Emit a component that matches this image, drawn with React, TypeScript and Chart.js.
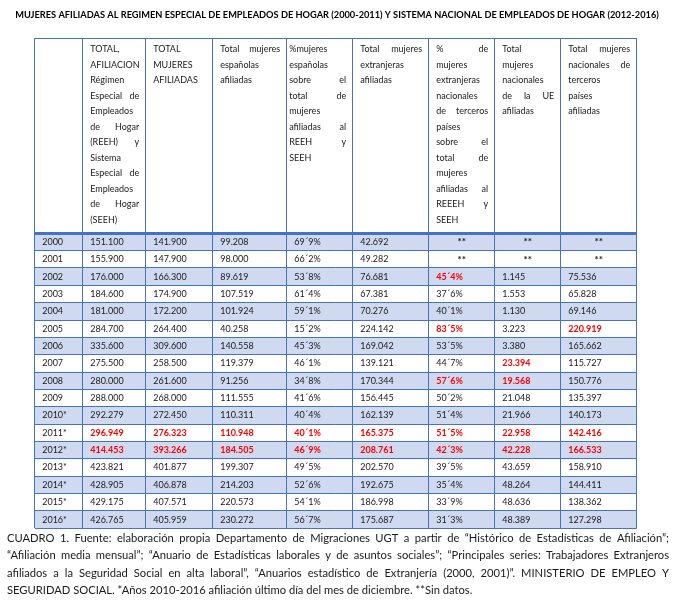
import React, { useEffect, useRef } from "react";
import { Chart, registerables } from "chart.js";

Chart.register(...registerables);

// ---------------- DATA ----------------
const TITLE =
  "MUJERES AFILIADAS AL REGIMEN ESPECIAL DE EMPLEADOS DE HOGAR (2000-2011) Y SISTEMA NACIONAL DE EMPLEADOS DE HOGAR (2012-2016)";

const years = [
  "2000", "2001", "2002", "2003", "2004", "2005", "2006", "2007", "2008", "2009",
  "2010*", "2011*", "2012*", "2013*", "2014*", "2015*", "2016*",
];

const totalAfiliacion = [151100, 155900, 176000, 184600, 181000, 284700, 335600, 275500, 280000, 288000, 292279, 296949, 414453, 423821, 428905, 429175, 426765];
const totalMujeres = [141900, 147900, 166300, 174900, 172200, 264400, 309600, 258500, 261600, 268000, 272450, 276323, 393266, 401877, 406878, 407571, 405959];
const espanolas = [99208, 98000, 89619, 107519, 101924, 40258, 140558, 119379, 91256, 111555, 110311, 110948, 184505, 199307, 214203, 220573, 230272];
const pctEspanolas = [69.9, 66.2, 53.8, 61.4, 59.1, 15.2, 45.3, 46.1, 34.8, 41.6, 40.4, 40.1, 46.9, 49.5, 52.6, 54.1, 56.7];
const extranjeras = [42692, 49282, 76681, 67381, 70276, 224142, 169042, 139121, 170344, 156445, 162139, 165375, 208761, 202570, 192675, 186998, 175687];
const pctTerceros = [null, null, 45.4, 37.6, 40.1, 83.5, 53.5, 44.7, 57.6, 50.2, 51.4, 51.5, 42.3, 39.5, 35.4, 33.9, 31.3];
const ueAfiliadas = [null, null, 1145, 1553, 1130, 3223, 3380, 23394, 19568, 21048, 21966, 22958, 42228, 43659, 48264, 48636, 48389];
const tercerosAfiliadas = [null, null, 75536, 65828, 69146, 220919, 165662, 115727, 150776, 135397, 140173, 142416, 166533, 158910, 144411, 138362, 127298];

const headerLines: string[][] = [
  [],
  ["TOTAL,", "AFILIACION", "Régimen", "Especial de", "Empleados", "de Hogar", "(REEH) y", "Sistema", "Especial de", "Empleados", "de Hogar", "(SEEH)"],
  ["TOTAL", "MUJERES", "AFILIADAS"],
  ["Total mujeres", "españolas", "afiliadas"],
  ["%mujeres", "españolas", "sobre el", "total de", "mujeres", "afiliadas al", "REEH y", "SEEH"],
  ["Total mujeres", "extranjeras", "afiliadas"],
  ["% de", "mujeres", "extranjeras", "nacionales", "de terceros", "países", "sobre el", "total de", "mujeres", "afiliadas al", "REEEH y", "SEEH"],
  ["Total", "mujeres", "nacionales", "de la UE", "afiliadas"],
  ["Total mujeres", "nacionales de", "terceros", "países", "afiliadas"],
];

const captionLines = [
  "CUADRO 1. Fuente: elaboración propia Departamento de Migraciones UGT a partir de “Histórico de Estadísticas de Afiliación”;",
  "“Afiliación media mensual”; “Anuario de Estadísticas laborales y de asuntos sociales”; “Principales series: Trabajadores Extranjeros",
  "afiliados a la Seguridad Social en alta laboral”, “Anuarios estadístico de Extranjería (2000, 2001)”. MINISTERIO DE EMPLEO Y",
  "SEGURIDAD SOCIAL. *Años 2010-2016 afiliación último día del mes de diciembre. **Sin datos.",
];

// highlighted (red bold) cells: year -> column indexes
const highlighted: Record<string, number[]> = {
  "2002": [6],
  "2005": [6, 8],
  "2007": [7],
  "2008": [6, 7],
  "2011*": [1, 2, 3, 4, 5, 6, 7, 8],
  "2012*": [1, 2, 3, 4, 5, 6, 7, 8],
};

// ---------------- LAYOUT / STYLE ----------------
const FONT = "Lato, 'Open Sans', sans-serif";
const FONT_SIZE = 9;
const TEXT_COLOR = "#1a1a1a";
const RED = "#ff0000";
const LINE_COLOR = "#4472c4";
const SHADE = "#cfdaf0";
const COL_WIDTHS = [48, 63, 67, 74, 66, 76, 66, 66, 76];
const HEADER_UNITS = 11.25;
const CELL_PAD = 7.5;
const HEADER_PAD_L = [7.5, 7.5, 7.5, 7.5, 2.5, 7.5, 7.5, 7.5, 7.5];
const HEADER_PAD_R = 6.5;
const HEADER_FIRST = 11.5;
const HEADER_LINE = 15.5;
const TITLE_Y = 15;
const TITLE_WIDTH = 644;
const CAPTION_LEFT = 7;
const CAPTION_RIGHT = 669;
const CAPTION_FIRST = 10;
const CAPTION_LINE = 17.3;
const CAPTION_FONT_SIZE = 11.2;

const colEdges = COL_WIDTHS.reduce((acc, w) => { acc.push(acc[acc.length - 1] + w); return acc; }, [0] as number[]);
const TOTAL_W = colEdges[colEdges.length - 1];
const Y_MAX = HEADER_UNITS + years.length;

const columns = [totalAfiliacion, totalMujeres, espanolas, pctEspanolas, extranjeras, pctTerceros, ueAfiliadas, tercerosAfiliadas];
const pctColumns = [3, 5];

function fmtInt(n: number) {
  return String(n).replace(/\B(?=(\d{3})+(?!\d))/g, ".");
}
function fmtPct(p: number) {
  const [a, b] = p.toFixed(1).split(".");
  return a + "\u00B4" + b + "%";
}

function drawJustified(ctx: CanvasRenderingContext2D, text: string, x: number, y: number, width: number, justify: boolean) {
  const words = text.split(" ");
  if (!justify || words.length < 2) { ctx.fillText(text, x, y); return; }
  const widths = words.map((w) => ctx.measureText(w).width);
  const sum = widths.reduce((a, b) => a + b, 0);
  let gap = (width - sum) / (words.length - 1);
  const minGap = ctx.measureText(" ").width * 0.6;
  if (gap < minGap) gap = minGap;
  let cx = x;
  words.forEach((w, i) => { ctx.fillText(w, cx, y); cx += widths[i] + gap; });
}

const tablePlugin = {
  id: "tableText",
  afterDraw(chart: any) {
    const { ctx } = chart;
    const xs = chart.scales.x;
    const ys = chart.scales.y;
    ctx.save();
    // title
    ctx.textBaseline = "middle";
    ctx.textAlign = "center";
    ctx.fillStyle = "#000";
    ctx.font = `bold 10px ${FONT}`;
    const tw = ctx.measureText(TITLE).width;
    const ts = (10 * TITLE_WIDTH) / tw;
    ctx.font = `bold ${ts.toFixed(2)}px ${FONT}`;
    ctx.fillText(TITLE, chart.width / 2, TITLE_Y);

    ctx.textAlign = "left";
    ctx.fillStyle = TEXT_COLOR;
    ctx.font = `${FONT_SIZE}px ${FONT}`;
    const top = ys.getPixelForValue(0);
    headerLines.forEach((lines, c) => {
      const left = xs.getPixelForValue(colEdges[c]) + HEADER_PAD_L[c];
      const right = xs.getPixelForValue(colEdges[c + 1]) - HEADER_PAD_R;
      lines.forEach((line, k) => {
        drawJustified(ctx, line, left, top + HEADER_FIRST + k * HEADER_LINE, right - left, k < lines.length - 1);
      });
    });
    years.forEach((yr, i) => {
      const y = ys.getPixelForValue(HEADER_UNITS + i + 0.5);
      ctx.font = `${FONT_SIZE}px ${FONT}`;
      ctx.fillStyle = TEXT_COLOR;
      ctx.textAlign = "left";
      ctx.fillText(yr, xs.getPixelForValue(colEdges[0]) + CELL_PAD, y);
      const reds = highlighted[yr] || [];
      columns.forEach((col, k) => {
        const c = k + 1;
        const v = col[i];
        const isRed = reds.includes(c);
        ctx.fillStyle = isRed ? RED : TEXT_COLOR;
        if (v === null || v === undefined) {
          ctx.font = `bold ${FONT_SIZE + 1}px ${FONT}`;
          ctx.textAlign = "center";
          ctx.fillText("**", (xs.getPixelForValue(colEdges[c]) + xs.getPixelForValue(colEdges[c + 1])) / 2, y);
        } else {
          ctx.font = `${isRed ? "bold " : ""}${FONT_SIZE}px ${FONT}`;
          ctx.textAlign = "left";
          const s = pctColumns.includes(k) ? fmtPct(v as number) : fmtInt(v as number);
          ctx.fillText(s, xs.getPixelForValue(colEdges[c]) + CELL_PAD, y);
        }
      });
    });
    // caption
    ctx.font = `${CAPTION_FONT_SIZE}px ${FONT}`;
    ctx.fillStyle = TEXT_COLOR;
    ctx.textAlign = "left";
    const base = chart.chartArea.bottom;
    captionLines.forEach((line, k) => {
      drawJustified(ctx, line, CAPTION_LEFT, base + CAPTION_FIRST + k * CAPTION_LINE, CAPTION_RIGHT - CAPTION_LEFT, k < captionLines.length - 1);
    });
    ctx.restore();
  },
};

export default function App() {
  const ref = useRef<HTMLCanvasElement | null>(null);
  useEffect(() => {
    if (!ref.current) return;
    const chart = new Chart(ref.current, {
      type: "bar",
      data: {
        datasets: [
          {
            data: years.map((_, i) => ({ y: HEADER_UNITS + i + 0.5, x: [0, TOTAL_W] })) as any,
            backgroundColor: (c: any) => (c.dataIndex % 2 === 0 ? SHADE : "rgba(0,0,0,0)"),
            borderWidth: 0,
            barPercentage: 1,
            categoryPercentage: 1,
          },
        ],
      },
      options: {
        indexAxis: "y",
        responsive: false,
        animation: false,
        events: [],
        layout: { padding: { left: 34.7, right: 37.3, top: 38, bottom: 83.7 } },
        plugins: {
          legend: { display: false },
          tooltip: { enabled: false },
          title: { display: false },
        },
        scales: {
          x: {
            type: "linear",
            min: 0,
            max: TOTAL_W,
            offset: false,
            afterBuildTicks: (s: any) => { s.ticks = colEdges.map((v) => ({ value: v })); },
            ticks: { display: false },
            grid: { color: LINE_COLOR, lineWidth: 1, drawTicks: false, offset: false, z: 1 },
            border: { display: false },
          },
          y: {
            type: "linear",
            reverse: true,
            min: 0,
            max: Y_MAX,
            offset: false,
            afterBuildTicks: (s: any) => {
              const t = [{ value: 0 }];
              for (let i = 0; i <= years.length; i++) t.push({ value: HEADER_UNITS + i });
              s.ticks = t;
            },
            ticks: { display: false },
            grid: {
              color: LINE_COLOR,
              lineWidth: (c: any) => (c.tick && Math.abs(c.tick.value - HEADER_UNITS) < 1e-6 ? 3 : 1),
              drawTicks: false,
              offset: false,
              z: 1,
            },
            border: { display: false },
          },
        },
      } as any,
      plugins: [tablePlugin],
    });
    return () => chart.destroy();
  }, []);
  return (
    <div style={{ position: "fixed", left: 0, top: 0, width: 674, height: 612, background: "#fff" }}>
      <canvas ref={ref} width={674} height={612} style={{ display: "block" }} />
    </div>
  );
}
